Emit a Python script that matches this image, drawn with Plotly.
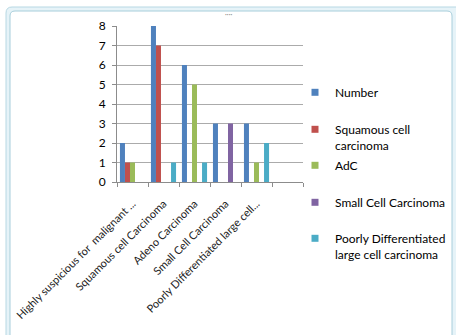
import plotly.graph_objects as go

# Categories along the x axis (the sixth slot is left empty)
categories = [
    "Highly suspicious for  malignant ...",
    "Squamous cell Carcinoma",
    "Adeno Carcinoma",
    "Small Cell Carcinoma",
    "Poorly Differentiated large cell...",
    "",
]

# Series values per category
number = [2, 8, 6, 3, 3, 0]
squamous = [1, 7, 0, 0, 0, 0]
adc = [1, 0, 5, 0, 1, 0]
small_cell = [0, 0, 0, 3, 0, 0]
poorly_diff = [0, 1, 1, 0, 2, 0]

series_names = [
    "Number",
    "Squamous cell<br>carcinoma",
    "AdC",
    "Small Cell Carcinoma",
    "Poorly Differentiated<br>large cell carcinoma",
]
series_values = [number, squamous, adc, small_cell, poorly_diff]
series_colors = ["#4F81BD", "#C0504D", "#9BBB59", "#8064A2", "#4BACC6"]

W, H = 456, 335
FONT = "Lato"

x_pos = list(range(len(categories)))


def px(x):
    return x / W


def py(y):
    return 1 - y / H


# each legend entry gets its own legend box so the rows can be spaced freely
legend_ids = ["legend", "legend2", "legend3", "legend4", "legend5"]
legend_tops = [78, 115, 151, 188, 224]

fig = go.Figure()
for name, vals, col in zip(series_names, series_values, series_colors):
    fig.add_trace(go.Bar(
        x=x_pos, y=vals, name=name, showlegend=False,
        marker=dict(color=col, line=dict(width=0)),
    ))
for name, col, lid in zip(series_names, series_colors, legend_ids):
    fig.add_trace(go.Scatter(
        x=[None], y=[None], mode="markers", name=name, legend=lid,
        marker=dict(symbol="square", size=7, color=col),
    ))


def rounded(x0, y0, x1, y1, r):
    # rounded rectangle path in paper units, given pixel corners
    rx, ry = r / W, r / H
    a, b, c, d = px(x0), py(y0), px(x1), py(y1)
    return (f"M{a + rx},{b} L{c - rx},{b} Q{c},{b} {c},{b - ry} "
            f"L{c},{d + ry} Q{c},{d} {c - rx},{d} L{a + rx},{d} "
            f"Q{a},{d} {a},{d + ry} L{a},{b - ry} Q{a},{b} {a + rx},{b} Z")


shapes = [
    dict(type="path", xref="paper", yref="paper", layer="below",
         path=rounded(6, 7, 462, 350, 6),
         fillcolor="#E6F3F8", line=dict(color="#B7D8E3", width=1)),
    dict(type="path", xref="paper", yref="paper", layer="below",
         path=rounded(10, 11, 452, 348, 5),
         fillcolor="#FFFFFF", line=dict(color="#A8CEDB", width=1)),
]

annotations = [
    dict(text="····", x=px(228), y=py(8), xref="paper", yref="paper",
         showarrow=False, font=dict(size=7, color="#8A8A8A")),
]

legend_style = dict(
    xanchor="left", yanchor="top", valign="top", itemwidth=30,
    font=dict(size=12, color="#000000", family=FONT),
    bgcolor="rgba(0,0,0,0)",
)

layout_legends = {
    lid: dict(x=px(295), y=py(top), **legend_style)
    for lid, top in zip(legend_ids, legend_tops)
}

fig.update_layout(
    width=W, height=H,
    margin=dict(l=0, r=0, t=0, b=0, autoexpand=False),
    paper_bgcolor="white",
    plot_bgcolor="rgba(0,0,0,0)",
    barmode="group", bargap=0.19, bargroupgap=0,
    font=dict(family=FONT, color="#000000"),
    shapes=shapes,
    annotations=annotations,
    xaxis=dict(
        domain=[px(117), px(303)], automargin=False,
        range=[-0.5, len(categories) - 0.5],
        tickmode="array", tickvals=x_pos[:5], ticktext=categories[:5],
        tickangle=-45, ticks="", showgrid=False, zeroline=False,
        showline=True, linecolor="#8C8C8C", linewidth=1,
        ticklabelstandoff=10,
        tickfont=dict(size=11, color="#222222", family=FONT),
        minor=dict(ticks="outside", tick0=-0.5, dtick=1, ticklen=4,
                   tickcolor="#8C8C8C", showgrid=False),
    ),
    yaxis=dict(
        domain=[py(182), py(26)], automargin=False,
        range=[0, 8], dtick=1,
        ticks="outside", ticklen=4, tickcolor="#8C8C8C",
        ticklabelstandoff=4,
        showline=True, linecolor="#8C8C8C", linewidth=1,
        gridcolor="#ABABAB", gridwidth=1, zeroline=False,
        tickfont=dict(size=12, color="#000000", family=FONT),
    ),
    **layout_legends,
)

fig.write_html("out.html")
